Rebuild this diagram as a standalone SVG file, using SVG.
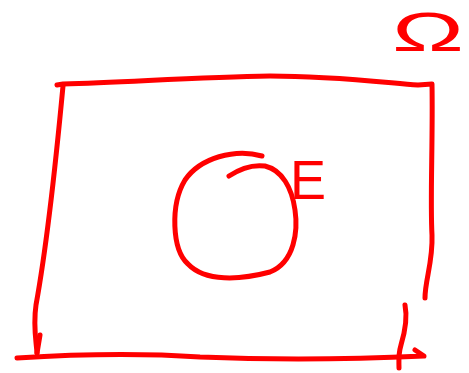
<svg xmlns="http://www.w3.org/2000/svg" width="469" height="373" viewBox="0 0 469 373">
<style>
.s{fill:none;stroke:#ff0000;stroke-width:5;stroke-linecap:round;stroke-linejoin:round}
.t{fill:#ff0000;font-family:"Liberation Sans",Arial,sans-serif}
</style>
<rect width="469" height="373" fill="#ffffff"/>
<g id="connectors">
<path class="s" d="M57,85 L63,84 C130,82 200,77 270,76 C330,76 380,82 418,85 L432,84 C433,140 430,200 432,235 C433,262 425,280 425,298"/>
<path class="s" d="M63,86 C57,150 46,250 36,305 C33,325 36,340 37,353"/>
<path class="s" d="M40,335 L37,353"/>
<path class="s" d="M17,358 C80,354 140,353 200,357 C270,360 340,360 424,356 L415,350"/>
<path class="s" d="M405,305 C408,320 404,335 401,345 C398,355 399,362 399,368"/>
</g>
<g id="domain">
<text class="t" x="392" y="51" font-size="55" textLength="72" lengthAdjust="spacingAndGlyphs">Ω</text>
</g>
<g id="circle">
<path class="s" d="M262,156 C235,148 200,158 185,180 C170,205 172,250 188,264 C205,282 240,280 270,272 C295,262 298,230 295,210 C292,188 282,170 265,166 C250,164 238,170 229,176"/>
</g>
<g id="label-E">
<text class="t" x="290" y="199" font-size="56" textLength="36" lengthAdjust="spacingAndGlyphs">E</text>
</g>
</svg>
